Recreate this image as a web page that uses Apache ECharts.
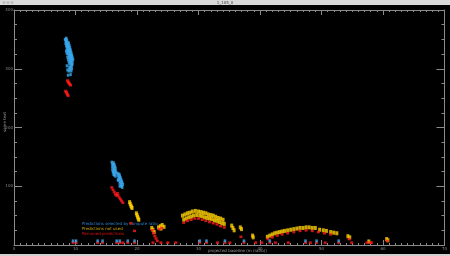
<!DOCTYPE html>
<html>
<head>
<meta charset="utf-8">
<script src="https://cdn.jsdelivr.net/npm/echarts@6/dist/echarts.min.js"></script>
<style>
html,body{margin:0;padding:0;background:#000;}
#c{width:450px;height:256px;}
</style>
</head>
<body>
<div id="c"></div>
<script>
var xTicks = [0, 10, 20, 30, 40, 50, 60, 70];
var yTicks = [0, 100, 200, 300, 400];
var titleText = "1_105_0";
var xName = "projected baseline (m (ratio))";
var yName = "some text";
var legendNames = ["Predictions selected by compute ratio", "Predictions not used", "Removed predictions"];

var bluePts = [
 [8.3,350],[8.4,348],[8.5,346],[8.4,343],[8.6,342],[8.5,339],[8.7,338],[8.6,335],[8.8,334],[8.7,331],
 [8.9,330],[8.8,327],[9.0,326],[8.9,323],[9.1,322],[9.0,319],[9.2,318],[9.1,315],[9.3,314],[9.2,311],
 [9.3,308],[9.4,305],[9.2,303],[9.4,300],[8.6,305],[8.7,298],[8.9,296],[9.3,296],[8.8,289],[9.2,290],
 [8.7,345],[8.8,341],[8.9,337],[9.0,333],[9.1,329],[9.2,325],[9.3,321],[9.4,317],[9.5,312],[9.5,308],
 [8.5,352],[8.6,349],[8.9,344],[9.0,340],[9.1,336],[9.2,332],[9.3,328],[9.4,324],[9.5,320],[9.6,316],
 [8.5,330],[8.6,326],[8.7,320],[8.8,316],[8.9,312],[9.0,308],[9.0,302],[9.1,299],
 [15.9,141],[16.0,138],[16.1,136],[16.0,133],[16.2,131],[16.3,128],[16.2,125],[16.4,122],[16.3,119],[16.5,117],
 [16.2,140],[16.3,137],[16.4,134],[16.5,131],[16.5,127],[16.6,124],[16.0,128],[16.1,124],[16.2,120],
 [16.8,122],[16.9,119],[17.0,116],[17.1,113],[17.0,110],[17.3,108],[17.2,105],[17.4,103],[17.5,100],[17.6,98],
 [16.9,111],[17.2,100],[17.1,121],[17.2,118],[17.3,115],[17.4,112],[17.5,109],[17.6,106],[17.7,103],
 [9.6,7],[10.1,7],[13.6,7],[14.4,7],[16.7,7],[17.2,7],[18.5,7],[19.6,7],[30.2,7],[31.3,7],
 [34.3,7],[37.4,7],[41.6,7],[47.4,7],[49.2,7],[52.8,7]
];
var yellowPts = [
 [18.8,73],[18.9,70],[19.0,67],[19.1,65],[19.2,63],
 [19.9,54],[20.0,51],[20.1,48],[20.2,45],[20.3,43],
 [22.4,29],[22.6,26],[22.8,22],
 [23.5,30],[23.8,32],[24.1,34],[24.4,31],[23.9,28],
 [27.4,50],[27.8,52],[28.2,54],[28.6,55],[29.0,57],[29.5,58],[30.0,57],[30.4,56],[30.8,55],[31.2,54],
 [31.6,52],[32.0,51],[32.4,50],[32.8,48],[33.2,46],[33.6,45],[34.0,43],
 [27.6,43],[28.0,45],[28.4,47],[28.8,48],[29.2,50],[29.7,51],[30.2,50],[30.6,49],[31.0,47],[31.4,46],
 [31.8,45],[32.2,44],[32.6,42],[33.0,41],[33.4,39],[33.8,37],[34.2,36],
 [35.4,33],[35.6,29],[35.8,25],[36.8,30],[37.0,27],[38.8,16],[38.9,13],
 [41.2,14],[41.6,16],[42.0,18],[42.4,20],[42.8,21],[43.2,22],[43.6,23],[44.0,24],[44.5,25],[45.0,26],
 [45.5,27],[46.0,28],[46.5,29],[47.0,29],[47.5,30],[48.0,30],[48.5,29],[49.0,29],[49.7,26],[50.3,25],
 [50.8,24],[51.5,22],[52.0,21],[52.5,20],[54.3,15],[54.6,13],
 [57.7,6],[60.6,10],[60.8,8]
];
var redPts = [
 [8.7,280],[8.8,278],[8.9,276],[9.0,275],[9.1,273],[9.2,272],
 [8.4,262],[8.5,260],[8.6,258],[8.7,256],[8.8,254],
 [15.9,98],[16.1,94],[16.3,90],[16.5,86],[16.7,84],[16.8,88],[16.9,85],[17.1,81],[17.3,78],[17.5,75],[17.7,72],
 [19.0,37],[19.6,24],
 [22.5,25],[22.7,20],[22.9,15],[23.1,11],[23.3,7],[23.6,27],[24.0,29],
 [27.6,38],[28.2,41],[28.8,43],[29.4,45],[30.0,45],[30.6,43],[31.2,41],[31.8,39],[32.4,37],[33.0,35],
 [33.6,32],[34.2,30],
 [36.9,14],
 [41.3,10],[42.0,13],[42.8,16],[43.6,18],[44.5,20],[45.5,22],[46.5,24],[47.5,25],[48.5,24],[49.5,22],
 [50.5,20],[51.5,18],[54.5,10],
 [57.4,4],[58.0,4],[60.7,7],
 [9.6,4],[10.1,4],[13.6,4],[14.4,4],[16.7,4],[17.2,4],[17.7,4],[18.5,4],[19.6,4],[22.6,4],
 [23.9,4],[25.0,4],[26.3,4],[30.2,4],[31.3,4],[33.1,4],[34.3,4],[35.1,4],[37.4,4],[39.3,4],
 [40.3,4],[41.6,4],[42.5,4],[44.6,4],[47.4,4],[48.2,4],[49.2,4],[50.6,4],[52.8,4],[54.9,4],[58.1,4]
];

var axisCol = '#8a8a8a';
var chart = echarts.init(document.getElementById('c'), null, {renderer:'canvas'});
function xAx(pos, show){
  return {
    type:'value', position:pos, min:xTicks[0], max:xTicks[xTicks.length-1], interval:10,
    axisLine:{show:true, onZero:false, lineStyle:{color:axisCol, width:1}},
    axisTick:{show:true, inside:true, length:5, lineStyle:{color:axisCol}},
    minorTick:{show:true, splitNumber:10, length:2, lineStyle:{color:axisCol}},
    splitLine:{show:false},
    axisLabel:{show:show, color:'#888', fontSize:4, margin:2, fontFamily:'DejaVu Sans'}
  };
}
function yAx(pos, show){
  return {
    type:'value', position:pos, min:yTicks[0], max:yTicks[yTicks.length-1], interval:100,
    axisLine:{show:true, onZero:false, lineStyle:{color:axisCol, width:1}},
    axisTick:{show:true, inside:true, length:8, lineStyle:{color:axisCol}},
    minorTick:{show:true, splitNumber:4, length:3, lineStyle:{color:axisCol}},
    splitLine:{show:false},
    axisLabel:{show:show, color:'#888', fontSize:4, margin:1, fontFamily:'DejaVu Sans',
      formatter:function(v){return v===0?'':String(v);}}
  };
}
chart.setOption({
  backgroundColor:'#000',
  animation:false,
  grid:{left:14, right:5, top:10, bottom:11},
  xAxis:[xAx('bottom', true), xAx('top', false)],
  yAxis:[yAx('left', true), yAx('right', false)],
  series:[
    {type:'scatter', name:legendNames[1], data:yellowPts, symbol:'rect', symbolSize:[3,4], itemStyle:{color:'#ffd000'}},
    {type:'scatter', name:legendNames[2], data:redPts, symbol:'rect', symbolSize:[3,2.5], itemStyle:{color:'#ff1a1a'}},
    {type:'scatter', name:legendNames[0], data:bluePts, symbol:'rect', symbolSize:[2.5,3], itemStyle:{color:'#3aaaf0'}}
  ],
  graphic:[
    {type:'rect', left:0, top:0, shape:{width:450, height:5}, style:{fill:'#d9d9d9'}},
    {type:'circle', shape:{cx:4, cy:2.5, r:1.5}, style:{fill:'#bbb'}},
    {type:'circle', shape:{cx:8, cy:2.5, r:1.5}, style:{fill:'#bbb'}},
    {type:'circle', shape:{cx:12, cy:2.5, r:1.5}, style:{fill:'#bbb'}},
    {type:'text', x:225, y:0.5, style:{text:titleText, fill:'#444', fontSize:4, fontFamily:'DejaVu Sans', align:'center'}},
    {type:'rect', left:0, top:254, shape:{width:450, height:2}, style:{fill:'#cfcfcf'}},
    {type:'text', x:208, y:249, style:{text:xName, fill:'#999', fontSize:4, fontFamily:'DejaVu Sans'}},
    {type:'text', x:5, y:122, rotation:Math.PI/2, style:{text:yName, fill:'#999', fontSize:4, fontFamily:'DejaVu Sans', align:'center', verticalAlign:'middle'}},
    {type:'text', x:82, y:222, style:{text:legendNames[0], fill:'#2e86d0', fontSize:4, fontFamily:'DejaVu Sans'}},
    {type:'text', x:82, y:227, style:{text:legendNames[1], fill:'#d4aa00', fontSize:4, fontFamily:'DejaVu Sans'}},
    {type:'text', x:82, y:232, style:{text:legendNames[2], fill:'#e01010', fontSize:4, fontFamily:'DejaVu Sans'}}
  ]
});
</script>
</body>
</html>
